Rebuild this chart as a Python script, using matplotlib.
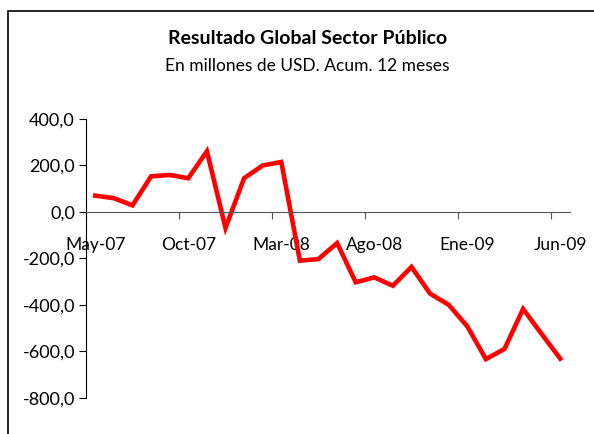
import matplotlib.pyplot as plt
import numpy as np
from matplotlib.patches import Rectangle

# meses (mayo 2007 - junio 2009)
months = ['May-07', 'Jun-07', 'Jul-07', 'Ago-07', 'Sep-07', 'Oct-07', 'Nov-07', 'Dic-07',
          'Ene-08', 'Feb-08', 'Mar-08', 'Abr-08', 'May-08', 'Jun-08', 'Jul-08', 'Ago-08',
          'Sep-08', 'Oct-08', 'Nov-08', 'Dic-08', 'Ene-09', 'Feb-09', 'Mar-09', 'Abr-09',
          'May-09', 'Jun-09']
resultado = [70, 59, 28, 153, 159, 145, 261, -69, 145, 200, 215, -210, -203, -134,
             -303, -282, -318, -237, -352, -400, -493, -634, -590, -418, -526, -632]
y_ticks = [400, 200, 0, -200, -400, -600, -800]

plt.rcParams['font.family'] = ['Lato', 'DejaVu Sans']

fig = plt.figure(figsize=(5.94, 4.34), dpi=100)
# marco exterior del grafico
fig.patches.append(Rectangle((8 / 594, -0.1), 1.2, 1 - 11 / 434 + 0.1,
                             transform=fig.transFigure, fill=False,
                             edgecolor='black', linewidth=1.2))

ax = fig.add_axes([86 / 594, 1 - 397.7 / 434, (569.6 - 86) / 594, (397.7 - 119) / 434])

x = np.arange(len(months)) + 0.5
ax.plot(x, resultado, color='#ff0000', linewidth=3.3, solid_joinstyle='miter')

ax.set_xlim(0, len(months))
ax.set_ylim(-800, 400)

ax.spines['top'].set_visible(False)
ax.spines['right'].set_visible(False)
ax.spines['bottom'].set_position(('data', 0))
ax.spines['bottom'].set_color('#555555')

ax.set_yticks(y_ticks)
ax.set_yticklabels([f'{v:.1f}'.replace('.', ',') for v in y_ticks], fontsize=13)
ax.tick_params(axis='y', direction='out', length=5, pad=3)

ax.set_xticks(np.arange(0, len(months), 5))
ax.set_xticklabels([])
ax.tick_params(axis='x', which='major', direction='out', length=5, color='#555555')
ax.set_xticks(x[::5], minor=True)
ax.set_xticklabels(months[::5], minor=True, fontsize=12.5)
ax.tick_params(axis='x', which='minor', length=0, pad=18)

fig.text(0.517, 1 - 39 / 434, 'Resultado Global Sector Público', ha='center', va='center',
         fontsize=14, fontweight='bold')
fig.text(0.517, 1 - 66 / 434, 'En millones de USD. Acum. 12 meses', ha='center', va='center',
         fontsize=12.5)

fig.savefig('out.png', dpi=100)
